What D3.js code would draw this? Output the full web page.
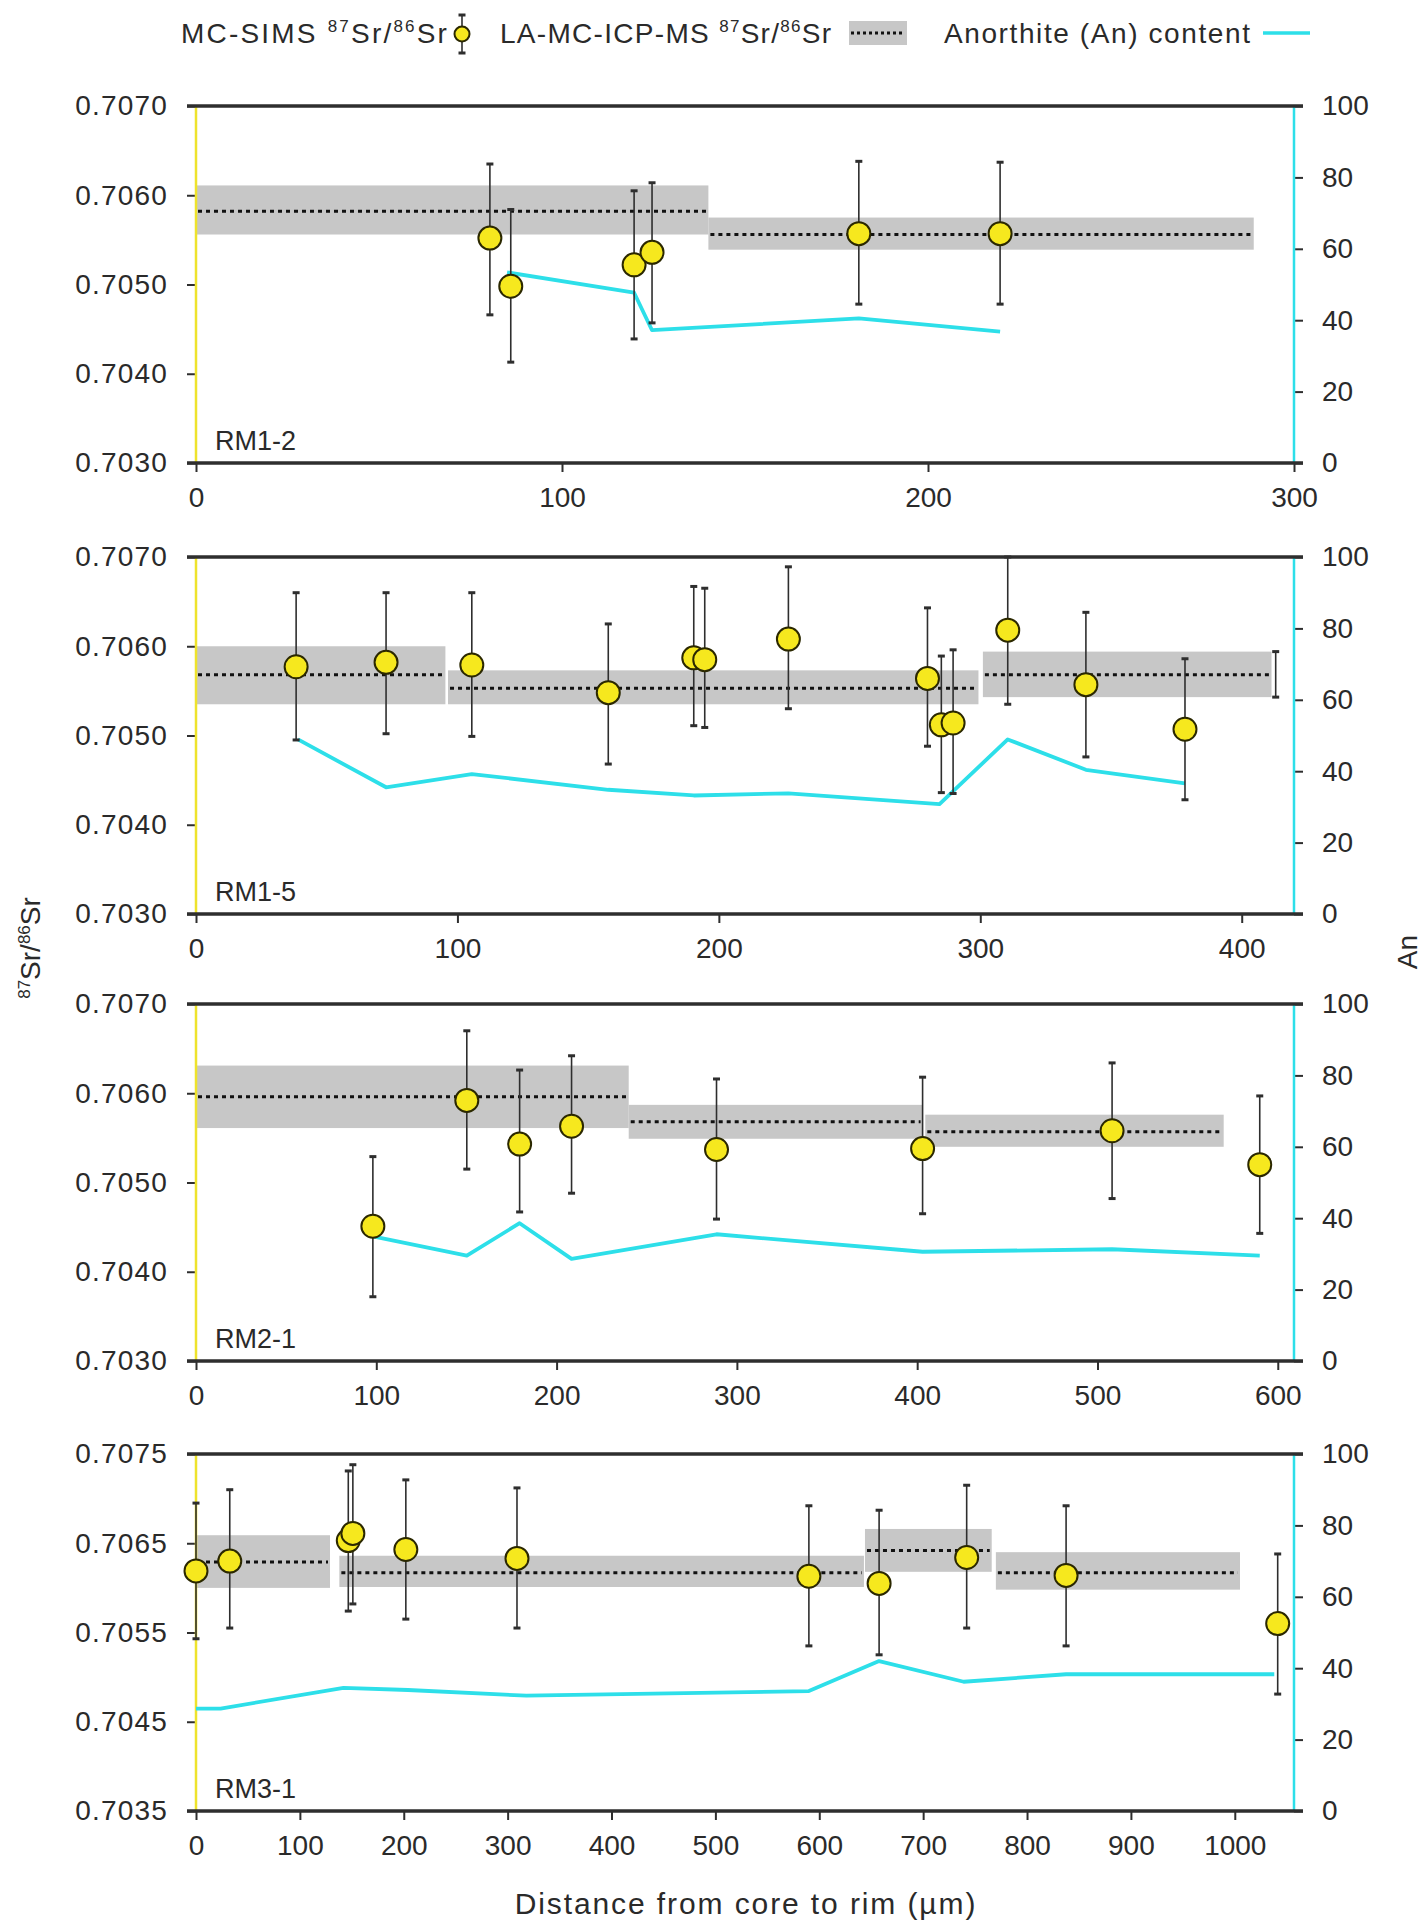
<!DOCTYPE html>
<html lang="en">
<head>
<meta charset="utf-8">
<title>Sr isotope profiles</title>
<script src="https://cdn.jsdelivr.net/npm/d3@7"></script>
<style>
  body { margin: 0; background: #fff; }
  text { font-family: "Liberation Sans", Arial, sans-serif; fill: #2a2a2a; }
</style>
</head>
<body>
<script>

// ---- RM1-2 ----
const rm12X  = [80.3, 86, 119.7, 124.6, 181.1, 219.7];
const rm12Sr = [0.70552, 0.70498, 0.70522, 0.70536, 0.70557, 0.70557];
const rm12Hi = [0.70635, 0.70584, 0.70605, 0.70614, 0.70638, 0.70637];
const rm12Lo = [0.70466, 0.70413, 0.70439, 0.70457, 0.70478, 0.70478];
// [from, to, mean, low, high]
const rm12Bands = [[0, 140, 0.70582, 0.70556, 0.70611], [140, 289, 0.70556, 0.70539, 0.70575]];
const rm12AnX = [85, 119.7, 124.6, 181.1, 219.7];
const rm12An  = [53.4, 47.7, 37.2, 40.5, 36.8];

// ---- RM1-5 ----
const rm15X  = [38.3, 72.7, 105.5, 157.7, 190.4, 194.6, 226.6, 279.8, 285.1, 289.6, 310.5, 340.4, 378.3];
const rm15Sr = [0.70577, 0.70582, 0.70579, 0.70548, 0.70587, 0.70585, 0.70608, 0.70564, 0.70512, 0.70514, 0.70618, 0.70557, 0.70507];
const rm15Hi = [0.70660, 0.70660, 0.70660, 0.70625, 0.70667, 0.70665, 0.70689, 0.70643, 0.70589, 0.70596, 0.70700, 0.70638, 0.70586];
const rm15Lo = [0.70495, 0.70502, 0.70499, 0.70468, 0.70511, 0.70509, 0.70530, 0.70488, 0.70436, 0.70435, 0.70535, 0.70476, 0.70428];
const rm15Bands = [[0, 95.4, 0.70568, 0.70535, 0.70600], [96.4, 299.3, 0.70553, 0.70535, 0.70573], [301, 411.4, 0.70568, 0.70543, 0.70594]];
const rm15AnX = [39, 72.7, 105.5, 157.7, 190.4, 226.6, 284.4, 310.5, 340.4, 378.3];
const rm15An  = [48.9, 35.5, 39.2, 34.8, 33.2, 33.8, 30.8, 48.9, 40.4, 36.6];
// error bar drawn without a marker
const rm15BarX = [413], rm15BarLo = [0.70543], rm15BarHi = [0.70594];

// ---- RM2-1 ----
const rm21X  = [98.1, 150.2, 179.5, 208.3, 288.7, 403, 508.1, 590];
const rm21Sr = [0.70451, 0.70592, 0.70543, 0.70563, 0.70537, 0.70538, 0.70558, 0.70520];
const rm21Hi = [0.70529, 0.70670, 0.70626, 0.70642, 0.70616, 0.70618, 0.70634, 0.70597];
const rm21Lo = [0.70372, 0.70515, 0.70467, 0.70488, 0.70459, 0.70465, 0.70482, 0.70443];
const rm21Bands = [[0, 240, 0.70596, 0.70561, 0.70631], [240, 403, 0.70568, 0.70549, 0.70587], [404.5, 570, 0.70557, 0.70540, 0.70576]];
const rm21AnX = [98.1, 150.2, 179.5, 208.3, 288.7, 403, 508.1, 590];
const rm21An  = [34.9, 29.5, 38.6, 28.6, 35.5, 30.6, 31.3, 29.5];

// ---- RM3-1 ----
const rm31X  = [0, 32.5, 146.6, 151, 202, 309, 590, 657.6, 741.9, 837.6, 1041.3];
const rm31Sr = [0.70619, 0.70630, 0.70653, 0.70661, 0.70643, 0.70633, 0.70613, 0.70605, 0.70634, 0.70614, 0.70560];
const rm31Hi = [0.70695, 0.70710, 0.70731, 0.70738, 0.70721, 0.70712, 0.70692, 0.70687, 0.70715, 0.70692, 0.70638];
const rm31Lo = [0.70543, 0.70555, 0.70574, 0.70582, 0.70565, 0.70555, 0.70535, 0.70525, 0.70555, 0.70535, 0.70481];
const rm31Bands = [[0, 129, 0.70629, 0.70600, 0.70659], [138, 643, 0.70617, 0.70601, 0.70636], [644, 766, 0.70642, 0.70618, 0.70666], [770, 1005, 0.70617, 0.70598, 0.70640]];
const rm31AnX = [0, 23.7, 142, 204, 318, 590, 657.6, 739, 837.6, 1038];
const rm31An  = [28.7, 28.7, 34.5, 33.9, 32.3, 33.6, 42, 36.2, 38.3, 38.3];

// axes
const sampleNames = ["RM1-2", "RM1-5", "RM2-1", "RM3-1"];
const xMax = [300, 420, 609, 1057];
const xTickStep = [100, 100, 100, 100];
const srDomains = [[0.7030, 0.7070], [0.7030, 0.7070], [0.7030, 0.7070], [0.7035, 0.7075]];
const srTicks = [
  [0.7030, 0.7040, 0.7050, 0.7060, 0.7070],
  [0.7030, 0.7040, 0.7050, 0.7060, 0.7070],
  [0.7030, 0.7040, 0.7050, 0.7060, 0.7070],
  [0.7035, 0.7045, 0.7055, 0.7065, 0.7075]
];
const anTicks = [0, 20, 40, 60, 80, 100];

const panels = [
  { x: rm12X, sr: rm12Sr, hi: rm12Hi, lo: rm12Lo, bands: rm12Bands, anX: rm12AnX, an: rm12An, barX: [], barLo: [], barHi: [] },
  { x: rm15X, sr: rm15Sr, hi: rm15Hi, lo: rm15Lo, bands: rm15Bands, anX: rm15AnX, an: rm15An, barX: rm15BarX, barLo: rm15BarLo, barHi: rm15BarHi },
  { x: rm21X, sr: rm21Sr, hi: rm21Hi, lo: rm21Lo, bands: rm21Bands, anX: rm21AnX, an: rm21An, barX: [], barLo: [], barHi: [] },
  { x: rm31X, sr: rm31Sr, hi: rm31Hi, lo: rm31Lo, bands: rm31Bands, anX: rm31AnX, an: rm31An, barX: [], barLo: [], barHi: [] }
];

// layout
const width = 1425, height = 1923;
const left = 196, right = 1294;
const panelTop = [106, 557, 1004, 1454];
const panelH = 357;

const yellow = "#eee32c", cyan = "#2ddfe9", grey = "#c7c7c7", dark = "#2e2e2e";

let svg = d3.select("body").append("svg")
  .attr("width", width)
  .attr("height", height);

function errorBar(g, x, y0, y1) {
  g.append("line").attr("x1", x).attr("x2", x).attr("y1", y0).attr("y2", y1)
    .attr("stroke", dark).attr("stroke-width", 1.6);
  [y0, y1].forEach(function (yy) {
    g.append("line").attr("x1", x - 3.5).attr("x2", x + 3.5).attr("y1", yy).attr("y2", yy)
      .attr("stroke", dark).attr("stroke-width", 3);
  });
}

panels.forEach(function (p, i) {
  let g = svg.append("g").attr("transform", "translate(0," + panelTop[i] + ")");

  let x = d3.scaleLinear().domain([0, xMax[i]]).range([left, right]);
  let y = d3.scaleLinear().domain(srDomains[i]).range([panelH, 0]);
  let yAn = d3.scaleLinear().domain([0, 100]).range([panelH, 0]);

  // LA-MC-ICP-MS bands
  g.selectAll(".band").data(p.bands).enter().append("rect")
    .attr("x", d => x(d[0]))
    .attr("width", d => x(d[1]) - x(d[0]))
    .attr("y", d => y(d[4]))
    .attr("height", d => y(d[3]) - y(d[4]))
    .attr("fill", grey);

  g.selectAll(".mean").data(p.bands).enter().append("line")
    .attr("x1", d => x(d[0]) + 2)
    .attr("x2", d => x(d[1]) - 2)
    .attr("y1", d => y(d[2]))
    .attr("y2", d => y(d[2]))
    .attr("stroke", "#111")
    .attr("stroke-width", 3)
    .attr("stroke-dasharray", "4,4");

  // axes
  let xAxis = g.append("g").attr("transform", "translate(0," + panelH + ")")
    .call(d3.axisBottom(x).tickValues(d3.range(0, xMax[i] + 1, xTickStep[i])).tickFormat(d3.format("d"))
      .tickSize(9).tickSizeOuter(0).tickPadding(15));
  let yAxis = g.append("g").attr("transform", "translate(" + left + ",0)")
    .call(d3.axisLeft(y).tickValues(srTicks[i]).tickFormat(d3.format(".4f")).tickSize(9).tickSizeOuter(0).tickPadding(19));
  let anAxis = g.append("g").attr("transform", "translate(" + right + ",0)")
    .call(d3.axisRight(yAn).tickValues(anTicks).tickSize(9).tickSizeOuter(0).tickPadding(19));

  [xAxis, yAxis, anAxis].forEach(function (a) {
    a.select(".domain").remove();
    a.selectAll(".tick line").attr("stroke", dark).attr("stroke-width", 2);
    a.selectAll(".tick text").attr("font-size", 28).attr("fill", "#2a2a2a")
      .attr("font-family", "Liberation Sans, Arial, sans-serif");
  });
  yAxis.selectAll(".tick text").attr("letter-spacing", 1.2);

  // frame lines
  g.append("line").attr("x1", left).attr("x2", left).attr("y1", 0).attr("y2", panelH)
    .attr("stroke", yellow).attr("stroke-width", 2.5);
  g.append("line").attr("x1", right).attr("x2", right).attr("y1", 0).attr("y2", panelH)
    .attr("stroke", cyan).attr("stroke-width", 2.5);
  [0, panelH].forEach(function (yy) {
    g.append("line").attr("x1", left - 9).attr("x2", right + 9).attr("y1", yy).attr("y2", yy)
      .attr("stroke", dark).attr("stroke-width", 3.5);
  });

  // anorthite content
  let anLine = d3.line().x(d => x(d[0])).y(d => yAn(d[1]));
  g.append("path")
    .datum(p.anX.map((v, k) => [v, p.an[k]]))
    .attr("d", anLine)
    .attr("fill", "none")
    .attr("stroke", cyan)
    .attr("stroke-width", 3.8)
    .attr("stroke-linejoin", "round");

  // error bars
  p.x.forEach(function (v, k) { errorBar(g, x(v), y(p.hi[k]), y(p.lo[k])); });
  p.barX.forEach(function (v, k) { errorBar(g, x(v), y(p.barHi[k]), y(p.barLo[k])); });

  // MC-SIMS points
  g.selectAll(".pt").data(p.x.map((v, k) => [v, p.sr[k]])).enter().append("circle")
    .attr("cx", d => x(d[0]))
    .attr("cy", d => y(d[1]))
    .attr("r", 11.5)
    .attr("fill", "#f6e81e")
    .attr("stroke", "#2b2800")
    .attr("stroke-width", 2);

  // sample name
  g.append("text")
    .attr("x", left + 19)
    .attr("y", panelH - 13)
    .attr("font-size", 27)
    .text(sampleNames[i]);
});

// axis titles
let yTitle = svg.append("text")
  .attr("transform", "translate(40,948) rotate(-90)")
  .attr("text-anchor", "middle")
  .attr("font-size", 28);
yTitle.append("tspan").attr("font-size", 17).attr("dy", -10).text("87");
yTitle.append("tspan").attr("dy", 10).text("Sr/");
yTitle.append("tspan").attr("font-size", 17).attr("dy", -10).text("86");
yTitle.append("tspan").attr("dy", 10).text("Sr");

svg.append("text")
  .attr("transform", "translate(1417,952) rotate(-90)")
  .attr("text-anchor", "middle")
  .attr("font-size", 28)
  .text("An");

svg.append("text")
  .attr("x", 746)
  .attr("y", 1914)
  .attr("text-anchor", "middle")
  .attr("font-size", 30)
  .attr("letter-spacing", 1.9)
  .text("Distance from core to rim (µm)");

// legend
function srLabel(x, prefix, spacing) {
  let t = svg.append("text").attr("x", x).attr("y", 43).attr("font-size", 28).attr("letter-spacing", spacing);
  t.append("tspan").text(prefix);
  t.append("tspan").attr("font-size", 17).attr("dy", -11).text("87");
  t.append("tspan").attr("dy", 11).text("Sr/");
  t.append("tspan").attr("font-size", 17).attr("dy", -11).text("86");
  t.append("tspan").attr("dy", 11).text("Sr");
}
srLabel(181, "MC-SIMS ", 2.2);
srLabel(500, "LA-MC-ICP-MS ", 1.3);

let lg = svg.append("g");
errorBar(lg, 462, 15, 53);
lg.append("circle").attr("cx", 462).attr("cy", 34).attr("r", 7.5)
  .attr("fill", "#f6e81e").attr("stroke", "#2b2800").attr("stroke-width", 2);

lg.append("rect").attr("x", 849).attr("y", 21).attr("width", 58).attr("height", 24).attr("fill", grey);
lg.append("line").attr("x1", 851).attr("x2", 905).attr("y1", 33).attr("y2", 33)
  .attr("stroke", "#111").attr("stroke-width", 3).attr("stroke-dasharray", "3,3");

svg.append("text").attr("x", 944).attr("y", 43).attr("font-size", 28).attr("letter-spacing", 1.6)
  .text("Anorthite (An) content");
lg.append("line").attr("x1", 1263).attr("x2", 1310).attr("y1", 33).attr("y2", 33)
  .attr("stroke", cyan).attr("stroke-width", 3.5);

</script>
</body>
</html>
